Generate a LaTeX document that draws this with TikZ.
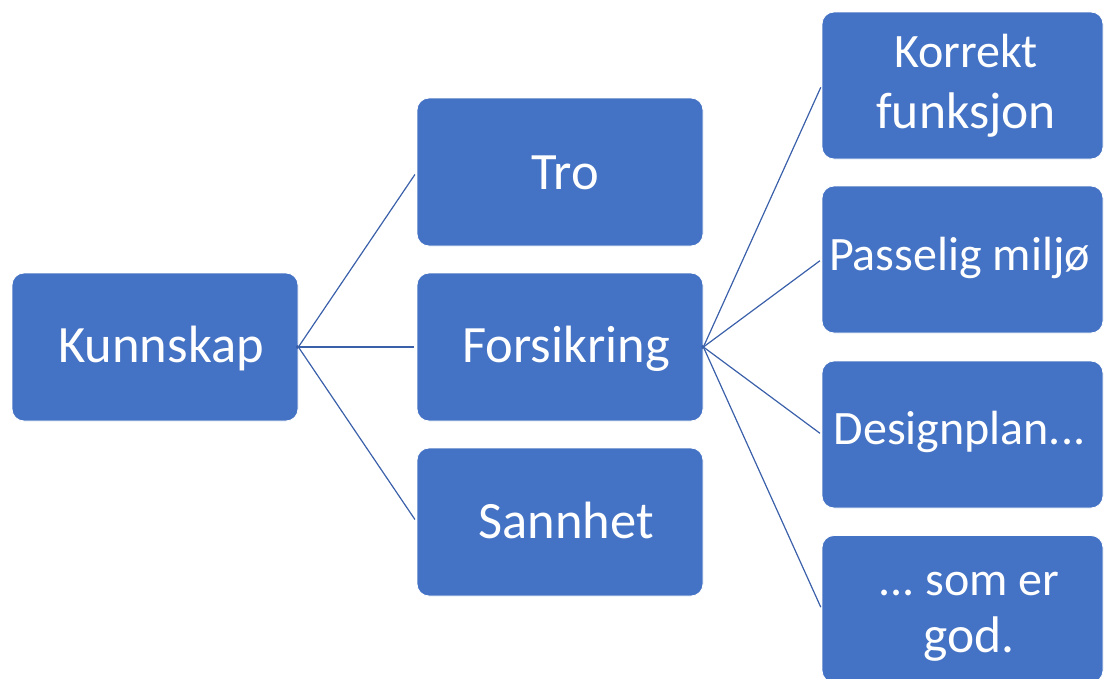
\documentclass[tikz,border=0pt]{standalone}
\usepackage{fontspec}
\setmainfont{Carlito}
\frenchspacing
\definecolor{boxblue}{HTML}{4472C4}
\definecolor{lineblue}{HTML}{3B60AA}
\tikzset{
  box/.style={rectangle, rounded corners=12pt, fill=boxblue, draw=white, line width=0.8pt,
    minimum width=286pt, minimum height=148pt, inner sep=0pt},
  rbox/.style={box, minimum width=281pt, minimum height=147pt},
  lbl/.style={text=white, inner sep=0pt, anchor=base, font=\fontsize{52.5}{63}\selectfont},
  rlbl/.style={text=white, inner sep=0pt, anchor=base, align=center, font=\fontsize{48}{59}\selectfont\frenchspacing},
  conn/.style={draw=lineblue, line width=1.2pt},
}
\newcommand{\bigline}{\fontsize{51.5}{59}\selectfont}
\begin{document}
\begin{tikzpicture}[x=1pt,y=-1pt]
\useasboundingbox (0,0) rectangle (1104,678);
\clip (0,0) rectangle (1104,678);
% boxes
\node[box] (kunnskap) at (155,347) {};
\node[box] (tro) at (560,172) {};
\node[box] (forsikring) at (560,347) {};
\node[box] (sannhet) at (560,522) {};
\node[rbox] (korrekt) at (962.5,85.5) {};
\node[rbox] (passelig) at (962.5,259.5) {};
\node[rbox] (design) at (962.5,434.5) {};
\node[rbox] (god) at (962.5,609) {};
% connectors
\draw[conn, shorten <=-2pt, shorten >=3pt] (kunnskap.east) -- (tro.west);
\draw[conn, shorten <=-2pt, shorten >=3pt] (kunnskap.east) -- (forsikring.west);
\draw[conn, shorten <=-2pt, shorten >=3pt] (kunnskap.east) -- (sannhet.west);
\draw[conn, shorten <=-2pt, shorten >=2pt] (forsikring.east) -- (korrekt.west);
\draw[conn, shorten <=-2pt, shorten >=2pt] (forsikring.east) -- (passelig.west);
\draw[conn, shorten <=-2pt, shorten >=2pt] (forsikring.east) -- (design.west);
\draw[conn, shorten <=-2pt, shorten >=2pt] (forsikring.east) -- (god.west);
% labels
\node[lbl] (tKunnskap) at (161,362) {Kunnskap};
\node[lbl] (tTro) at (565,189) {Tro};
\node[lbl] (tForsikring) at (566,362) {Forsikring};
\node[lbl] (tSannhet) at (566,538) {Sannhet};
\node[rlbl] (tKorrekt) at (966,128) {Korrekt\\[2pt]\bigline funksjon};
\node[rlbl] (tPasselig) at (959.5,270) {Passelig miljø};
\node[rlbl] (tDesign) at (959.5,444) {Designplan...};
\node[rlbl] (tGod) at (969,652) {... som er\\[-2pt]\bigline god.};
\end{tikzpicture}
\end{document}
